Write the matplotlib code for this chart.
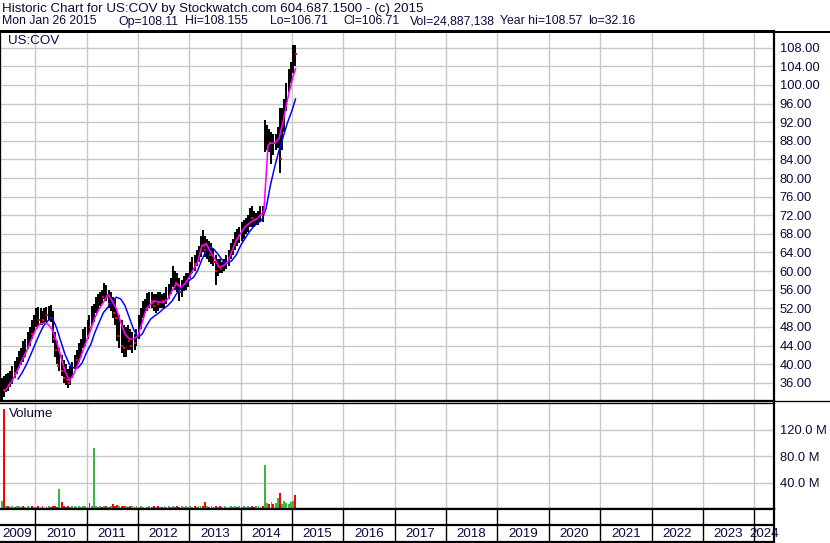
import matplotlib.pyplot as plt
import numpy as np
import pandas as pd
from matplotlib.lines import Line2D

plt.rcParams["font.family"] = ["Liberation Sans", "DejaVu Sans"]

# semi-monthly bars (1st / 15th of each month), May 2009 .. Jan 2015
bar_start = "2009-05-01"

high_2009 = [37.0, 37.5, 37.9, 38.0, 38.5, 39.5, 40.7, 41.5, 42.9, 43.5, 45.0, 45.5, 47.0, 48.0, 49.5, 50.5]
low_2009 = [32.4, 33.0, 34.0, 34.3, 35.2, 35.8, 37.0, 37.8, 39.2, 39.8, 40.5, 41.5, 43.2, 44.0, 45.5, 46.8]
close_2009 = [35.5, 34.5, 36.5, 35.5, 37.0, 38.5, 38.0, 40.5, 41.0, 42.5, 41.5, 44.5, 45.5, 47.0, 46.5, 49.5]

high_2010 = [52.0, 52.3, 52.0, 51.5, 52.0, 52.3, 52.5, 52.7, 51.5, 47.0, 45.0, 43.5,
             42.0, 41.0, 40.0, 39.0, 39.5, 40.5, 42.0, 43.0, 44.5, 45.5, 47.5, 48.0]
low_2010 = [48.0, 48.2, 48.5, 48.5, 48.8, 49.0, 49.5, 49.0, 44.5, 41.5, 40.0, 38.5,
            37.5, 36.0, 35.5, 34.8, 35.5, 37.0, 39.0, 39.5, 40.5, 41.5, 43.5, 44.0]
close_2010 = [50.5, 49.5, 50.0, 49.5, 51.0, 50.5, 51.5, 50.0, 45.5, 43.0, 39.5, 40.5,
              38.5, 37.0, 36.5, 36.0, 38.5, 38.5, 41.5, 41.0, 43.5, 44.5, 46.0, 47.5]

high_2011 = [49.5, 50.5, 52.5, 53.0, 54.5, 55.0, 55.5, 56.0, 57.5, 57.0, 56.0, 55.5,
             54.5, 54.0, 51.5, 50.5, 49.5, 48.5, 48.0, 48.5, 47.5, 47.0, 46.5, 47.5]
low_2011 = [45.5, 46.5, 48.5, 49.0, 51.0, 51.5, 52.5, 53.0, 54.0, 53.5, 52.0, 51.5,
            50.0, 48.5, 45.0, 43.5, 42.5, 41.5, 41.5, 43.0, 43.0, 42.5, 43.0, 44.0]
close_2011 = [48.5, 48.0, 51.5, 52.0, 53.5, 54.0, 55.0, 54.5, 56.5, 54.5, 53.0, 54.0,
              51.0, 50.0, 46.0, 47.5, 44.0, 43.5, 46.0, 45.0, 44.0, 45.5, 44.5, 46.5]

high_2012 = [50.5, 52.0, 53.5, 54.0, 55.3, 55.5, 55.5, 55.0, 55.0, 55.5, 55.5, 55.0,
             55.2, 56.5, 57.3, 58.5, 61.0, 60.0, 59.5, 58.5, 58.0, 59.0, 59.5, 59.5]
low_2012 = [45.5, 47.5, 50.0, 51.0, 51.5, 52.0, 52.0, 51.5, 51.0, 51.5, 52.0, 52.0,
            52.0, 53.0, 54.0, 55.0, 56.5, 56.0, 55.5, 53.5, 54.5, 55.8, 56.0, 56.5]
close_2012 = [49.5, 51.5, 52.5, 53.5, 54.0, 54.5, 53.5, 52.5, 53.5, 53.0, 54.5, 53.5,
              54.5, 56.0, 56.0, 57.5, 58.0, 57.5, 57.0, 55.5, 57.0, 57.5, 57.5, 58.5]

high_2013 = [62.0, 63.0, 63.5, 64.5, 65.5, 67.5, 68.8, 67.5, 67.0, 66.5, 66.0, 65.0,
             63.5, 62.5, 62.5, 62.0, 62.5, 63.5, 64.5, 66.0, 67.0, 68.5, 69.0, 69.5]
low_2013 = [58.5, 59.5, 60.0, 61.0, 62.0, 63.0, 64.0, 63.0, 62.5, 62.0, 61.5, 61.0,
            57.0, 59.0, 59.5, 59.5, 60.0, 60.5, 61.0, 62.5, 63.5, 64.5, 65.5, 66.0]
close_2013 = [61.0, 62.0, 61.5, 63.5, 64.5, 66.5, 65.5, 64.5, 65.5, 63.5, 64.5, 62.0,
              60.0, 61.5, 60.5, 61.0, 61.5, 62.5, 63.5, 65.0, 66.0, 67.5, 67.0, 68.5]

high_2014 = [70.5, 71.0, 71.5, 72.0, 73.5, 74.0, 73.0, 72.5, 73.0, 74.0, 74.0, 92.5,
             91.5, 90.5, 90.0, 89.5, 89.5, 91.0, 95.0, 95.0, 97.0, 100.5, 103.5, 105.0]
low_2014 = [66.5, 67.0, 68.0, 68.5, 69.5, 69.5, 69.5, 70.0, 70.0, 70.5, 70.5, 85.5,
            86.0, 85.5, 83.0, 85.0, 86.0, 86.5, 81.0, 86.0, 90.0, 94.5, 98.5, 100.5]
close_2014 = [69.5, 70.0, 70.5, 71.0, 72.5, 71.5, 71.0, 71.5, 72.5, 73.0, 72.0, 88.5,
              89.0, 87.5, 88.0, 87.5, 88.5, 89.5, 84.0, 92.0, 95.5, 99.5, 101.5, 104.0]

high_2015 = [108.6, 108.5]
low_2015 = [102.5, 104.0]
close_2015 = [107.0, 106.7]

# volume, millions of shares
vol_2009 = [12, 152, 5, 4, 3, 4, 3, 5, 4, 3, 4, 3, 5, 3, 4, 3]
vol_2010 = [3, 4, 3, 4, 2, 3, 5, 3, 4, 5, 3, 31, 10, 4, 3, 5, 3, 4, 5, 3, 4, 3, 5, 4]
vol_2011 = [3, 9, 4, 92, 5, 3, 4, 3, 5, 4, 3, 4, 7, 5, 6, 5, 4, 5, 4, 3, 5, 4, 3, 4]
vol_2012 = [3, 4, 3, 2, 3, 4, 3, 5, 3, 4, 3, 3, 4, 3, 5, 3, 4, 3, 4, 3, 5, 3, 4, 3]
vol_2013 = [4, 3, 4, 3, 4, 5, 4, 10, 4, 3, 4, 3, 5, 3, 4, 3, 4, 3, 3, 4, 3, 4, 3, 4]
vol_2014 = [3, 4, 3, 4, 3, 4, 3, 5, 4, 3, 4, 67, 9, 8, 10, 7, 9, 17, 24.5, 8, 12, 9, 7, 10]
vol_2015 = [12, 22]

# moving averages, read at month starts
ma_fast_dates = pd.date_range("2009-06-01", "2014-06-01", freq="MS").strftime("%Y-%m-%d").tolist() + [
    "2014-06-15", "2014-07-01", "2014-07-15", "2014-08-01", "2014-09-01", "2014-10-01",
    "2014-11-01", "2014-12-01", "2015-01-01", "2015-01-26"]
ma_fast = [34.2, 35.6, 37.0, 38.9, 41.0, 42.8, 45.0,
           47.2, 48.6, 48.8, 48.6, 47.5, 45.0, 41.8, 38.5, 36.4, 37.8, 40.0, 42.5,
           45.0, 47.5, 50.0, 51.9, 53.3, 55.0, 53.6, 51.9, 49.0, 46.5, 45.4, 45.4,
           46.1, 49.0, 51.9, 52.9, 53.6, 53.3, 53.3, 54.0, 55.8, 57.3, 56.5, 57.3,
           58.7, 60.5, 61.9, 65.5, 65.9, 64.1, 62.7, 60.8, 61.2, 61.9, 64.4, 66.6,
           68.1, 69.5, 70.2, 70.9, 71.3, 72.4,
           72.6, 80.5, 87.0, 87.5, 87.5, 88.5, 92.5, 97.0, 101.0, 103.5]

ma_slow_dates = pd.date_range("2009-09-01", "2015-01-01", freq="MS").strftime("%Y-%m-%d").tolist() + ["2015-01-26"]
ma_slow = [36.8, 38.2, 40.0, 42.1,
           44.3, 46.5, 48.2, 49.3, 50.0, 47.9, 45.0, 42.1, 40.0, 39.2, 39.2, 40.3,
           42.5, 44.3, 46.8, 49.0, 51.1, 52.2, 53.5, 54.4, 54.0, 52.6, 50.0, 47.5,
           45.7, 46.5, 48.2, 49.7, 50.4, 51.1, 51.9, 52.6, 53.6, 55.1, 56.2, 57.3,
           58.0, 58.7, 60.1, 62.5, 64.3, 65.2, 64.5, 63.3, 62.0, 61.7, 62.3, 63.5,
           65.5, 67.0, 68.3, 69.5, 70.3, 71.0, 73.5, 78.5, 82.5, 86.0, 89.0, 92.0,
           94.5, 97.0]

price_ticks = list(range(36, 109, 4))
vol_ticks = [40, 80, 120]
years = list(range(2009, 2025))

header_1 = "Historic Chart for US:COV by Stockwatch.com 604.687.1500 - (c) 2015"
header_2 = ["Mon Jan 26 2015", "Op=108.11", "Hi=108.155", "Lo=106.71", "Cl=106.71",
            "Vol=24,887,138", "Year hi=108.57", "lo=32.16"]

NAVY = "#0a0a3c"
W, H = 830, 543
PX = 72 / 100  # one pixel in points


def dec_year(dates):
    d = pd.to_datetime(pd.Series(dates))
    days = np.where(d.dt.is_leap_year, 366, 365)
    return (d.dt.year + (d.dt.dayofyear - 1) / days).to_numpy()


def fy(py):
    """pixel row -> figure fraction"""
    return 1 - py / H


high = np.array(high_2009 + high_2010 + high_2011 + high_2012 + high_2013 + high_2014 + high_2015)
low = np.array(low_2009 + low_2010 + low_2011 + low_2012 + low_2013 + low_2014 + low_2015)
close = np.array(close_2009 + close_2010 + close_2011 + close_2012 + close_2013 + close_2014 + close_2015)
vol = np.array(vol_2009 + vol_2010 + vol_2011 + vol_2012 + vol_2013 + vol_2014 + vol_2015, dtype=float)

bar_dates = pd.date_range(bar_start, periods=len(high), freq="SMS") + pd.Timedelta(days=7)
x = dec_year(bar_dates)
down = np.r_[False, close[1:] < close[:-1]]

XMIN, XMAX = 2009.315, 2024.385

fig = plt.figure(figsize=(W / 100, H / 100), dpi=100)
fig.patch.set_facecolor("white")

ax = fig.add_axes([0, fy(400), 774 / W, (400 - 31) / H])
axv = fig.add_axes([0, fy(509), 774 / W, (509 - 403) / H])
axy = fig.add_axes([0, fy(542), 774 / W, (542 - 509) / H])

# ---- price panel ----
ax.vlines(x, low, high, color="black", linewidth=2 * PX, zorder=3)
ax.plot(x[down] + 0.012, close[down], "s", color="red", markersize=2.0, markeredgewidth=0, zorder=4)
ax.plot(dec_year(ma_slow_dates), ma_slow, color="#0000ff", linewidth=1.5 * PX, zorder=5)
ax.plot(dec_year(ma_fast_dates), ma_fast, color="#ff00ff", linewidth=1.6 * PX, zorder=6)

ax.set_xlim(XMIN, XMAX)
ax.set_ylim(32.3, 111.6)
ax.set_yticks(price_ticks)
ax.set_yticklabels([f"{v:.2f}" for v in price_ticks])
ax.text(0.01, 0.972, "US:COV", transform=ax.transAxes, fontsize=9.6, color=NAVY, va="center", ha="left")

# ---- volume panel ----
colors = np.where(down, "#ff0000", "#3fb43f")
axv.bar(x, vol, width=0.036, color=colors, zorder=3)
axv.set_xlim(XMIN, XMAX)
axv.set_ylim(0, 161)
axv.set_yticks(vol_ticks)
axv.set_yticklabels([f"{v:.1f} M" for v in vol_ticks])
axv.text(0.011, 0.9, "Volume", transform=axv.transAxes, fontsize=9.6, color=NAVY, va="center", ha="left")

for a in (ax, axv):
    a.set_xticks(years[1:])
    a.grid(True, color="#c8c8c8", linewidth=1.4 * PX, zorder=0)
    a.yaxis.tick_right()
    a.tick_params(axis="x", length=0, labelbottom=False)
    a.tick_params(axis="y", length=0, pad=4, labelsize=9.3, labelcolor=NAVY)
    a.spines["right"].set_linewidth(2.2 * PX)

ax.spines["top"].set_linewidth(2 * PX)
ax.spines["bottom"].set_linewidth(1.3 * PX)
ax.spines["left"].set_linewidth(1.3 * PX)
axv.spines["top"].set_linewidth(1.3 * PX)
axv.spines["bottom"].set_linewidth(2.2 * PX)
axv.spines["left"].set_visible(False)

# ---- year strip ----
axy.set_xlim(XMIN, XMAX)
axy.set_ylim(0, 2)
axy.axhline(1.03, color="black", linewidth=2.2 * PX)
axy.vlines(years[1:], 0, 2, color="black", linewidth=1.4 * PX)
edges = [XMIN] + years[1:] + [XMAX]
for yr, a0, a1 in zip(years, edges[:-1], edges[1:]):
    axy.text((a0 + a1) / 2, 0.5, str(yr), ha="center", va="center", fontsize=9.6, color=NAVY)
axy.set_xticks([])
axy.set_yticks([])
axy.spines["left"].set_visible(False)
axy.spines["top"].set_linewidth(2.2 * PX)
axy.spines["bottom"].set_linewidth(2.2 * PX)
axy.spines["right"].set_linewidth(2.2 * PX)

# full-width rules
for py in (31.5, 400.5):
    fig.add_artist(Line2D([0, 1], [fy(py), fy(py)], color="black", linewidth=2 * PX if py < 100 else 1.3 * PX))

# ---- header ----
fig.text(2 / W, fy(9), header_1, fontsize=9.65, color=NAVY, va="center", ha="left")
header_x = [2, 118, 185, 270, 343, 410, 500, 588]
for px, s in zip(header_x, header_2):
    fig.text(px / W, fy(21.5), s, fontsize=8.8, color=NAVY, va="center", ha="left")

fig.savefig("out.png", dpi=100)
